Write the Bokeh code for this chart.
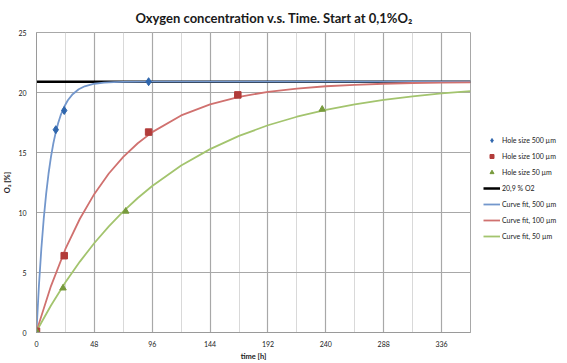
from bokeh.plotting import figure
from bokeh.models import Legend, LegendItem, SingleIntervalTicker, Range1d
from bokeh.embed import file_html
from bokeh.resources import INLINE

# Measured points
t500 = [0, 16, 23, 93]
o500 = [0.1, 16.9, 18.5, 20.9]
t100 = [0, 23, 93, 167]
o100 = [0.1, 6.4, 16.7, 19.8]
t50 = [0, 22, 74, 237]
o50 = [0.1, 3.7, 10.1, 18.6]

# Reference level
t_ref = [0, 360]
o_ref = [20.9, 20.9]

# Curve fits
tc500 = [0, 2, 4, 6, 8, 10, 12, 14, 16, 18, 20, 23, 26, 30, 35, 40, 48, 56, 64, 72, 96, 144, 192, 240, 288, 336, 360]
oc500 = [0.1, 3.87, 6.96, 9.48, 11.55, 13.25, 14.63, 15.77, 16.70, 17.46, 18.09, 18.81, 19.35, 19.86, 20.27, 20.52,
         20.73, 20.82, 20.87, 20.89, 20.9, 20.9, 20.9, 20.9, 20.9, 20.9, 20.9]
tc100 = [0, 12, 24, 36, 48, 60, 72, 84, 96, 120, 144, 168, 192, 216, 240, 264, 288, 312, 336, 360]
oc100 = [0.1, 3.87, 6.96, 9.48, 11.55, 13.25, 14.63, 15.77, 16.70, 18.09, 19.01, 19.64, 20.05, 20.33, 20.52,
         20.64, 20.73, 20.79, 20.82, 20.85]
tc50 = [0, 12, 24, 36, 48, 60, 72, 84, 96, 120, 144, 168, 192, 216, 240, 264, 288, 312, 336, 360]
oc50 = [0.1, 2.25, 4.18, 5.91, 7.46, 8.84, 10.09, 11.21, 12.21, 13.91, 15.28, 16.38, 17.27, 17.98, 18.55,
        19.01, 19.38, 19.68, 19.92, 20.11]

FONT = "Lato"

p = figure(frame_width=434, frame_height=300,
           output_backend="svg", toolbar_location=None,
           x_range=Range1d(0, 360), y_range=Range1d(0, 25))

p.title.text = "Oxygen concentration v.s. Time. Start at 0,1%O\u2082"
p.title.align = "left"
p.title.offset = 99
p.title.standoff = 14
p.title.text_font = FONT
p.title.text_font_size = "13px"
p.title.text_font_style = "bold"
p.title.text_color = "#1a1a1a"

p.xaxis.ticker = SingleIntervalTicker(interval=48, num_minor_ticks=2)
p.yaxis.ticker = SingleIntervalTicker(interval=5, num_minor_ticks=0)
for ax in (p.xaxis[0], p.yaxis[0]):
    ax.axis_line_color = "#9a9a9a"
    ax.major_tick_line_color = None
    ax.minor_tick_line_color = None
    ax.major_label_text_font = FONT
    ax.major_label_text_font_size = "7px"
    ax.major_label_text_color = "#1a1a1a"
    ax.axis_label_text_font = FONT
    ax.axis_label_text_font_size = "7.5px"
    ax.axis_label_text_font_style = "bold"
    ax.axis_label_text_color = "#1a1a1a"
p.xaxis.axis_label = "time [h]"
p.yaxis.axis_label = "O\u2082 [%]"
p.xaxis.major_label_standoff = 2
p.xaxis.axis_label_standoff = 2
p.yaxis.major_label_standoff = 4
p.yaxis.axis_label_standoff = 3

p.xgrid.grid_line_color = "#a8a8a8"
p.xgrid.minor_grid_line_color = "#d9d9d9"
p.ygrid.grid_line_color = "#a8a8a8"
p.xgrid.grid_line_width = 1.2
p.ygrid.grid_line_width = 1.2
p.outline_line_color = "#a8a8a8"

r_ref = p.line(t_ref, o_ref, line_color="black", line_width=2.5)
r_c500 = p.line(tc500, oc500, line_color="#7397cc", line_width=1.8)
r_c100 = p.line(tc100, oc100, line_color="#d0716f", line_width=1.8)
r_c50 = p.line(tc50, oc50, line_color="#a3c46e", line_width=1.8)
r_p500 = p.scatter(t500, o500, marker="diamond", size=8, fill_color="#2f66ad", line_color="#2f66ad")
r_p100 = p.scatter(t100, o100, marker="square", size=6.5, fill_color="#b23c3a", line_color="#b23c3a")
r_p50 = p.scatter(t50, o50, marker="triangle", size=6.5, fill_color="#779a3c", line_color="#779a3c")

legend = Legend(items=[
    LegendItem(label="Hole size 500 \u00b5m", renderers=[r_p500]),
    LegendItem(label="Hole size 100 \u00b5m", renderers=[r_p100]),
    LegendItem(label="Hole size 50 \u00b5m", renderers=[r_p50]),
    LegendItem(label="20,9 % O2", renderers=[r_ref]),
    LegendItem(label="Curve fit, 500 \u00b5m", renderers=[r_c500]),
    LegendItem(label="Curve fit, 100 \u00b5m", renderers=[r_c100]),
    LegendItem(label="Curve fit, 50 \u00b5m", renderers=[r_c50]),
], location=(13, 91))
legend.label_text_font = FONT
legend.label_text_font_size = "7px"
legend.label_text_color = "#1a1a1a"
legend.glyph_width = 17
legend.glyph_height = 10
legend.label_height = 10
legend.label_standoff = 2
legend.spacing = 6
legend.padding = 2
legend.margin = 0
legend.border_line_color = None
legend.background_fill_alpha = 0
p.add_layout(legend, "right")

open("out.html", "w").write(file_html(p, INLINE))
